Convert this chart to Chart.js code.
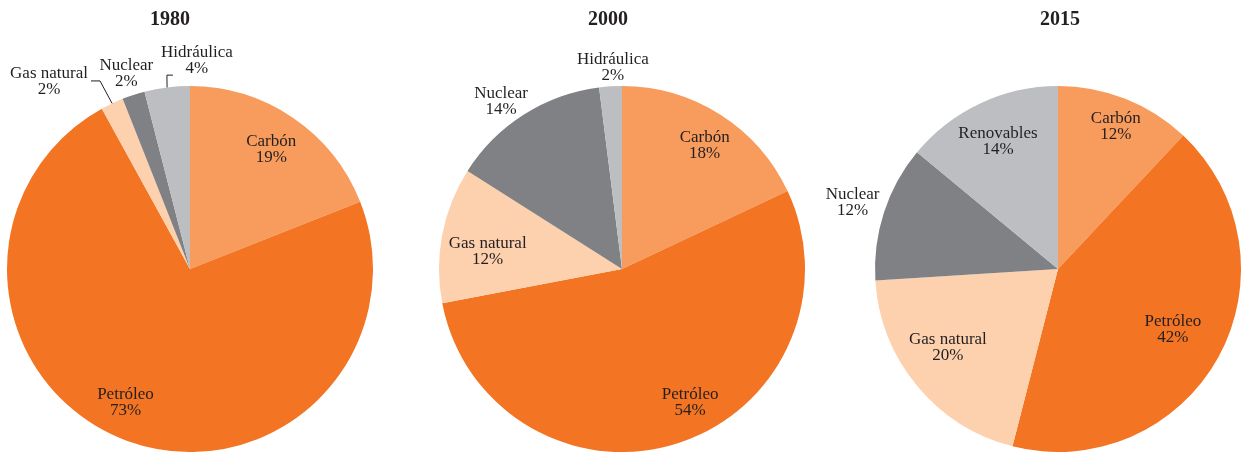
<!DOCTYPE html>
<html>
<head>
<meta charset="utf-8">
<script src="https://cdn.jsdelivr.net/npm/chart.js@4"></script>
<style>
  html, body { margin: 0; padding: 0; background: #fff; overflow: hidden; }
  body { width: 1244px; height: 452px; position: relative; }
  canvas { position: absolute; top: 0; }
</style>
</head>
<body>
<canvas id="c1980" width="400" height="452" style="left:0"></canvas>
<canvas id="c2000" width="404" height="452" style="left:420px"></canvas>
<canvas id="c2015" width="420" height="452" style="left:824px"></canvas>
<script>
const years = ['1980', '2000', '2015'];

const labels1980 = ['Carbón', 'Petróleo', 'Gas natural', 'Nuclear', 'Hidráulica'];
const values1980 = [19, 73, 2, 2, 4];

const labels2000 = ['Carbón', 'Petróleo', 'Gas natural', 'Nuclear', 'Hidráulica'];
const values2000 = [18, 54, 12, 14, 2];

const labels2015 = ['Carbón', 'Petróleo', 'Gas natural', 'Nuclear', 'Renovables'];
const values2015 = [12, 42, 20, 12, 14];

const colors1980 = ['#f79c5d', '#f37422', '#fdd0ae', '#808184', '#bcbec1'];
const colors2000 = colors1980;
const colors2015 = colors1980;

const ink = '#231f20';

// where each slice label sits: fraction of radius, angle shift (deg), optional leader line
const place1980 = [
  { r: 0.79, da: 0 },
  { r: 0.81, da: 6 },
  { r: 1.28, da: -11.8, leader: [[51, -1], [42, -1]] },
  { r: 1.125, da: 0 },
  { r: 1.142, da: 9.1, leader: [[-30, 15], [-24, 15]] }
];
const place2000 = [
  { r: 0.81, da: 1.5 },
  { r: 0.82, da: -9 },
  { r: 0.74, da: -3.5 },
  { r: 1.13, da: -3.4 },
  { r: 1.10, da: 1 }
];
const place2015 = [
  { r: 0.84, da: 0.5 },
  { r: 0.71, da: -1 },
  { r: 0.74, da: 4 },
  { r: 1.18, da: 0 },
  { r: 0.77, da: 0 }
];

const sliceText = {
  id: 'sliceText',
  afterDatasetsDraw(chart, args, opts) {
    const ctx = chart.ctx;
    const meta = chart.getDatasetMeta(0);
    const values = chart.data.datasets[0].data;
    ctx.save();
    ctx.fillStyle = ink;
    ctx.strokeStyle = ink;
    ctx.lineWidth = 1;
    ctx.textAlign = 'center';
    ctx.textBaseline = 'middle';

    ctx.font = 'bold 20px "Liberation Serif"';
    ctx.fillText(opts.title, opts.titleX, 20);

    ctx.font = '17px "Liberation Serif"';
    meta.data.forEach((arc, i) => {
      const p = opts.place[i];
      const mid = (arc.startAngle + arc.endAngle) / 2;
      const a = mid + p.da * Math.PI / 180;
      const rr = arc.outerRadius * p.r;
      const x = arc.x + Math.cos(a) * rr;
      const y = arc.y + Math.sin(a) * rr;
      ctx.fillText(chart.data.labels[i], x, y - 8);
      ctx.fillText(values[i] + '%', x, y + 8);
      if (p.leader) {
        ctx.beginPath();
        ctx.moveTo(arc.x + Math.cos(mid) * arc.outerRadius, arc.y + Math.sin(mid) * arc.outerRadius);
        p.leader.forEach(pt => ctx.lineTo(x + pt[0], y + pt[1]));
        ctx.stroke();
      }
    });
    ctx.restore();
  }
};

const makePie = (id, labels, values, colors, opts) => {
  new Chart(document.getElementById(id), {
    type: 'pie',
    data: {
      labels: labels,
      datasets: [{
        data: values,
        backgroundColor: colors,
        borderWidth: 0,
        hoverOffset: 0,
        offset: 0
      }]
    },
    options: {
      responsive: false,
      animation: false,
      events: [],
      layout: { padding: opts.padding },
      plugins: {
        legend: { display: false },
        tooltip: { enabled: false },
        title: { display: false },
        sliceText: opts
      }
    },
    plugins: [sliceText]
  });
};

makePie('c1980', labels1980, values1980, colors1980, {
  title: years[0], titleX: 170, place: place1980,
  padding: { top: 86, bottom: 0, left: 0, right: 20 }
});
makePie('c2000', labels2000, values2000, colors2000, {
  title: years[1], titleX: 188, place: place2000,
  padding: { top: 86, bottom: 0, left: 0, right: 0 }
});
makePie('c2015', labels2015, values2015, colors2015, {
  title: years[2], titleX: 236, place: place2015,
  padding: { top: 86, bottom: 0, left: 48, right: 0 }
});
</script>
</body>
</html>
